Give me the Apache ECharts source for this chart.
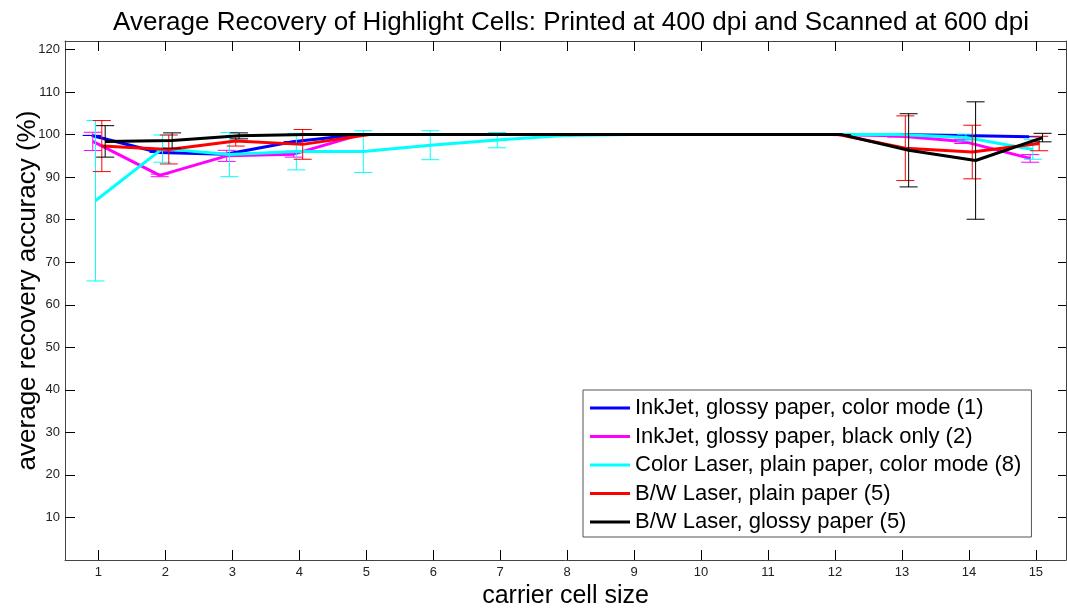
<!DOCTYPE html>
<html>
<head>
<meta charset="utf-8">
<script src="https://cdn.jsdelivr.net/npm/echarts@6/dist/echarts.min.js"></script>
<style>
html,body{margin:0;padding:0;background:#fff;}
#chart{width:1067px;height:610px;}
</style>
</head>
<body>
<div id="chart"></div>
<script>
// ---- data ----
const cellSizes = [1,2,3,4,5,6,7,8,9,10,11,12,13,14,15];
const yTicks = [10,20,30,40,50,60,70,80,90,100,110,120];
const seriesNames = [
  'InkJet, glossy paper, color mode (1)',
  'InkJet, glossy paper, black only (2)',
  'Color Laser, plain paper, color mode (8)',
  'B/W Laser, plain paper (5)',
  'B/W Laser, glossy paper (5)'
];
const inkjetColor    = [99.8, 95.8, 95.4, 98.3, 100, 100, 100, 100, 100, 100, 100, 100, 100, 99.8, 99.5];
const inkjetColorErr = [0, 0, 0, 0, 0, 0, 0, 0, 0, 0, 0, 0, 0, 0, 0];
const inkjetBlack    = [98.4, 90.4, 95.0, 95.4, 100, 100, 100, 100, 100, 100, 100, 100, 99.7, 98.4, 94.4];
const inkjetBlackErr = [2.15, 0.3, 1.3, 0.7, 0, 0, 0, 0, 0, 0, 0, 0, 0.3, 0.5, 0.9];
const colorLaser     = [84.45, 96.7, 95.3, 96.0, 96.0, 97.5, 98.7, 99.8, 100, 100, 100, 100, 100, 99.3, 96.5];
const colorLaserErr  = [18.85, 3.2, 5.2, 4.3, 4.9, 3.4, 1.8, 0.2, 0.2, 0, 0, 0, 0, 0.8, 2.3];
const bwPlain        = [97.3, 96.5, 98.5, 97.7, 100, 100, 100, 100, 100, 100, 100, 100, 96.8, 95.9, 97.9];
const bwPlainErr     = [6.0, 3.4, 1.2, 3.5, 0, 0, 0, 0, 0, 0, 0, 0, 7.6, 6.3, 1.7];
const bwGlossy       = [98.4, 98.6, 99.7, 100, 100, 100, 100, 100, 100, 100, 100, 100, 96.3, 93.9, 99.3];
const bwGlossyErr    = [3.7, 1.8, 0.7, 0, 0, 0, 0, 0, 0, 0, 0, 0, 8.6, 13.8, 1.0];
const xOffsets = [-0.1, -0.085, -0.045, 0.05, 0.1];

// ---- build ----
const values = [inkjetColor, inkjetBlack, colorLaser, bwPlain, bwGlossy];
const errs = [inkjetColorErr, inkjetBlackErr, colorLaserErr, bwPlainErr, bwGlossyErr];
const colors = ['#0000ff', '#ff00ff', '#00ffff', '#ff0000', '#000000'];
const FONT = 'Liberation Sans, Arial, Helvetica, sans-serif';

const series = [];
values.forEach((vals, i) => {
  const lineData = cellSizes.map((c, j) => [c + xOffsets[i], vals[j]]);
  const errData = cellSizes.map((c, j) => [c + xOffsets[i], vals[j] - errs[i][j], vals[j] + errs[i][j]]);
  series.push({
    type: 'custom',
    silent: true,
    z: 2 + i * 2,
    data: errData,
    encode: { x: 0, y: [1, 2] },
    renderItem: function (params, api) {
      const x = api.value(0);
      const lo = api.coord([x, api.value(1)]);
      const hi = api.coord([x, api.value(2)]);
      const hw = 9;
      const st = { stroke: colors[i], lineWidth: 1 };
      return {
        type: 'group',
        children: [
          { type: 'line', shape: { x1: lo[0], y1: lo[1], x2: hi[0], y2: hi[1] }, style: st },
          { type: 'line', shape: { x1: hi[0] - hw, y1: hi[1], x2: hi[0] + hw, y2: hi[1] }, style: st },
          { type: 'line', shape: { x1: lo[0] - hw, y1: lo[1], x2: lo[0] + hw, y2: lo[1] }, style: st }
        ]
      };
    }
  });
  series.push({
    type: 'line',
    name: seriesNames[i],
    z: 3 + i * 2,
    data: lineData,
    symbol: 'none',
    lineStyle: { color: colors[i], width: 3 },
    itemStyle: { color: colors[i] },
    animation: false
  });
});

const axisLineStyle = { color: '#444', width: 1 };
const chart = echarts.init(document.getElementById('chart'), null, { renderer: 'canvas' });
chart.setOption({
  animation: false,
  backgroundColor: '#ffffff',
  textStyle: { fontFamily: FONT },
  title: {
    text: 'Average Recovery of Highlight Cells: Printed at 400 dpi and Scanned at 600 dpi',
    left: 566, top: 5, textAlign: 'center',
    textStyle: { fontFamily: FONT, fontSize: 26, fontWeight: 'normal', color: '#000' }
  },
  grid: { left: 65, right: 1, top: 41, bottom: 50, containLabel: false, outerBoundsMode: 'none' },
  legend: {
    orient: 'vertical',
    left: 583, top: 390,
    padding: [7, 10, 4, 7],
    itemWidth: 40, itemHeight: 3,
    itemGap: 6.5,
    icon: 'rect',
    backgroundColor: '#fff',
    borderColor: '#555', borderWidth: 1,
    data: seriesNames,
    textStyle: { fontFamily: FONT, fontSize: 22, color: '#000', lineHeight: 22 }
  },
  xAxis: [{
    type: 'value', min: 0.5, max: 15.45,
    name: 'carrier cell size', nameLocation: 'middle', nameGap: 24,
    nameTextStyle: { fontFamily: FONT, fontSize: 25, color: '#000' },
    axisLine: { show: true, lineStyle: axisLineStyle },
    axisTick: { show: true, inside: true, length: 10, customValues: cellSizes, lineStyle: { color: '#000' } },
    axisLabel: { customValues: cellSizes, fontSize: 13, color: '#222', margin: 6, fontFamily: FONT },
    splitLine: { show: false }
  }, {
    type: 'value', min: 0.5, max: 15.45, position: 'top',
    axisLine: { show: true, onZero: false, lineStyle: axisLineStyle },
    axisTick: { show: true, inside: true, length: 10, customValues: cellSizes, lineStyle: { color: '#000' } },
    axisLabel: { show: false },
    splitLine: { show: false }
  }],
  yAxis: [{
    type: 'value', min: 0, max: 122,
    name: 'average recovery accuracy (%)', nameLocation: 'middle', nameGap: 24,
    nameMoveOverlap: false,
    nameTextStyle: { fontFamily: FONT, fontSize: 26, color: '#000', padding: [0, 0, 0, 20] },
    axisLine: { show: true, lineStyle: axisLineStyle },
    axisTick: { show: true, inside: true, length: 10, customValues: yTicks, lineStyle: { color: '#000' } },
    axisLabel: { customValues: yTicks, fontSize: 13, color: '#222', margin: 5, fontFamily: FONT },
    splitLine: { show: false }
  }, {
    type: 'value', min: 0, max: 122, position: 'right',
    axisLine: { show: true, onZero: false, lineStyle: axisLineStyle },
    axisTick: { show: true, inside: true, length: 8, customValues: yTicks, lineStyle: { color: '#000' } },
    axisLabel: { show: false },
    splitLine: { show: false }
  }],
  series: series
});
</script>
</body>
</html>
